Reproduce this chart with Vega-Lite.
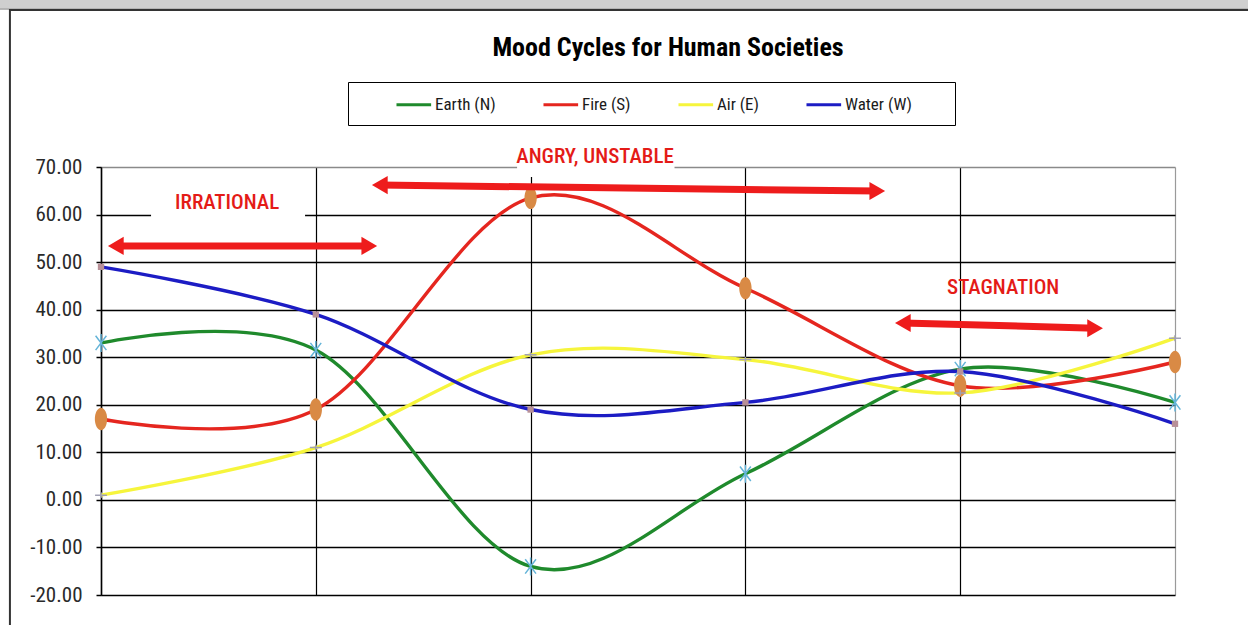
{
  "$schema": "https://vega.github.io/schema/vega-lite/v6.json",
  "width": 1074,
  "height": 428,
  "autosize": {"type": "none"},
  "padding": {"left": 101, "top": 167, "right": 73, "bottom": 30},
  "background": "white",
  "title": {
    "text": "Mood Cycles for Human Societies",
    "font": "Liberation Sans Narrow, Roboto Condensed, DejaVu Sans Condensed, sans-serif",
    "fontSize": 26,
    "fontWeight": "bold",
    "color": "#000000",
    "anchor": "middle",
    "frame": "group",
    "dx": 30,
    "offset": -66
  },
  "datasets": {
    "series": [
      {"series": "Earth (N)", "x": 0, "y": 33},
      {"series": "Earth (N)", "x": 1, "y": 31.5},
      {"series": "Earth (N)", "x": 2, "y": -14},
      {"series": "Earth (N)", "x": 3, "y": 5.5},
      {"series": "Earth (N)", "x": 4, "y": 27.5},
      {"series": "Earth (N)", "x": 5, "y": 20.5},
      {"series": "Fire (S)", "x": 0, "y": 17},
      {"series": "Fire (S)", "x": 1, "y": 19},
      {"series": "Fire (S)", "x": 2, "y": 63.5},
      {"series": "Fire (S)", "x": 3, "y": 44.5},
      {"series": "Fire (S)", "x": 4, "y": 24},
      {"series": "Fire (S)", "x": 5, "y": 29},
      {"series": "Air (E)", "x": 0, "y": 1},
      {"series": "Air (E)", "x": 1, "y": 11},
      {"series": "Air (E)", "x": 2, "y": 30.5},
      {"series": "Air (E)", "x": 3, "y": 29.5},
      {"series": "Air (E)", "x": 4, "y": 22.5},
      {"series": "Air (E)", "x": 5, "y": 34},
      {"series": "Water (W)", "x": 0, "y": 49},
      {"series": "Water (W)", "x": 1, "y": 39},
      {"series": "Water (W)", "x": 2, "y": 19},
      {"series": "Water (W)", "x": 3, "y": 20.5},
      {"series": "Water (W)", "x": 4, "y": 27},
      {"series": "Water (W)", "x": 5, "y": 16}
    ],
    "arrows": [
      {"note": "IRRATIONAL", "x": 0.069, "x2": 1.249, "y": 53.4, "y2": 53.4},
      {"note": "ANGRY, UNSTABLE", "x": 1.298, "x2": 3.614, "y": 66.2, "y2": 64.95},
      {"note": "STAGNATION", "x": 3.733, "x2": 4.628, "y": 37.2, "y2": 36.1}
    ],
    "heads": [
      {"note": "IRRATIONAL", "dir": "left", "x": 0.069, "y": 53.4},
      {"note": "IRRATIONAL", "dir": "right", "x": 1.249, "y": 53.4},
      {"note": "ANGRY, UNSTABLE", "dir": "left", "x": 1.298, "y": 66.2},
      {"note": "ANGRY, UNSTABLE", "dir": "right", "x": 3.614, "y": 64.95},
      {"note": "STAGNATION", "dir": "left", "x": 3.733, "y": 37.2},
      {"note": "STAGNATION", "dir": "right", "x": 4.628, "y": 36.1}
    ],
    "notes": [
      {"note": "IRRATIONAL", "x": 0.587, "y": 62.4},
      {"note": "ANGRY, UNSTABLE", "x": 2.3, "y": 72.0},
      {"note": "STAGNATION", "x": 4.2, "y": 44.6}
    ],
    "boxes": [
      {"note": "IRRATIONAL", "x": 0.233, "x2": 0.95, "y": 65.2, "y2": 58.4},
      {"note": "ANGRY, UNSTABLE", "x": 1.937, "x2": 2.67, "y": 73.7, "y2": 67.9}
    ],
    "frame": [
      {"x": -0.424, "x2": 6, "y": 103, "y2": -40}
    ],
    "band": [
      {"x": -1, "x2": 7, "y": 106, "y2": 103.2}
    ]
  },
  "encoding": {
    "x": {
      "field": "x",
      "type": "quantitative",
      "scale": {"domain": [0, 5], "nice": false, "zero": false},
      "axis": {
        "title": null,
        "labels": false,
        "ticks": false,
        "domain": false,
        "grid": true,
        "values": [0, 1, 2, 3, 4, 5],
        "gridColor": {"condition": {"test": "datum.value == 5", "value": "#9a9a9a"}, "value": "#000000"},
        "gridWidth": 1.2
      }
    },
    "y": {
      "field": "y",
      "type": "quantitative",
      "scale": {"domain": [-20, 70], "nice": false, "zero": false},
      "axis": {
        "title": null,
        "values": [-20, -10, 0, 10, 20, 30, 40, 50, 60, 70],
        "labelExpr": "replace(format(datum.value, '.2f'), '\u2212', '-')",
        "grid": true,
        "gridColor": {"condition": {"test": "datum.value == 70", "value": "#8a8a8a"}, "value": "#000000"},
        "gridWidth": 1.6,
        "domain": true,
        "domainColor": "#000000",
        "domainWidth": 1.5,
        "ticks": true,
        "tickColor": "#000000",
        "tickSize": 5,
        "tickWidth": 1.5,
        "labelFont": "Liberation Sans Narrow, Roboto Condensed, DejaVu Sans Condensed, sans-serif",
        "labelFontSize": 21,
        "labelColor": "#2a2a2a",
        "labelPadding": 14
      }
    }
  },
  "layer": [
    {
      "data": {"name": "band"},
      "mark": {"type": "rect", "fill": "#cfcfcf", "stroke": "#8a8a8a", "strokeWidth": 1},
      "encoding": {"x2": {"field": "x2"}, "y2": {"field": "y2"}}
    },
    {
      "data": {"name": "frame"},
      "mark": {"type": "rect", "fillOpacity": 0, "stroke": "#333333", "strokeWidth": 2},
      "encoding": {"x2": {"field": "x2"}, "y2": {"field": "y2"}}
    },
    {
      "data": {"name": "boxes"},
      "mark": {"type": "rect", "fill": "#ffffff", "stroke": null},
      "encoding": {"x2": {"field": "x2"}, "y2": {"field": "y2"}}
    },
    {
      "data": {"name": "series"},
      "mark": {"type": "line", "interpolate": "cardinal", "strokeWidth": 3.4},
      "encoding": {
        "color": {
          "field": "series",
          "type": "nominal",
          "scale": {
            "domain": ["Earth (N)", "Fire (S)", "Air (E)", "Water (W)"],
            "range": ["#1f8a2c", "#e5261f", "#f6f53c", "#1c1cc4"]
          },
          "legend": {
            "orient": "none",
            "legendX": 247,
            "legendY": -85,
            "direction": "horizontal",
            "title": "\u00a0",
            "titleOrient": "right",
            "titlePadding": 31,
            "titleFontSize": 12,
            "symbolType": "M3,0L7,0",
            "symbolSize": 300,
            "symbolStrokeWidth": 3,
            "labelOffset": 54,
            "labelFont": "Liberation Sans Narrow, Roboto Condensed, DejaVu Sans Condensed, sans-serif",
            "labelFontSize": 17,
            "labelColor": "#1a1a1a",
            "columnPadding": 11,
            "padding": 12,
            "strokeColor": "#000000",
            "fillColor": "#ffffff"
          }
        },
        "order": {"field": "x"}
      }
    },
    {
      "data": {"name": "series"},
      "transform": [{"filter": "datum.series == 'Earth (N)'"}],
      "mark": {"type": "point", "shape": "M0,-1L0,1M-0.6,-0.8L0.6,0.8M-0.6,0.8L0.6,-0.8", "size": 324, "filled": false, "stroke": "#64b4d8", "strokeWidth": 1.5, "opacity": 1}
    },
    {
      "data": {"name": "series"},
      "transform": [{"filter": "datum.series == 'Fire (S)'"}],
      "mark": {"type": "point", "shape": "M0,-1A0.55,1 0 1,1 0,1A0.55,1 0 1,1 0,-1Z", "size": 500, "filled": true, "fill": "#d98a45", "stroke": null, "opacity": 1}
    },
    {
      "data": {"name": "series"},
      "transform": [{"filter": "datum.series == 'Air (E)'"}],
      "mark": {"type": "point", "shape": "M-0.8,0L0.8,0M0,-0.4L0,0.4", "size": 220, "filled": false, "stroke": "#a0a0b4", "strokeWidth": 1.5, "opacity": 1}
    },
    {
      "data": {"name": "series"},
      "transform": [{"filter": "datum.series == 'Water (W)'"}],
      "mark": {"type": "point", "shape": "square", "size": 40, "filled": true, "fill": "#b89098", "stroke": null, "opacity": 1}
    },
    {
      "data": {"name": "arrows"},
      "mark": {"type": "rule", "color": "#ee1c1c", "strokeWidth": 7},
      "encoding": {"x2": {"field": "x2"}, "y2": {"field": "y2"}}
    },
    {
      "data": {"name": "heads"},
      "mark": {"type": "point", "filled": true, "fill": "#ee1c1c", "stroke": null, "size": 330, "opacity": 1},
      "encoding": {
        "shape": {
          "field": "dir",
          "type": "nominal",
          "scale": {"domain": ["left", "right"], "range": ["triangle-left", "triangle-right"]},
          "legend": null
        }
      }
    },
    {
      "data": {"name": "notes"},
      "mark": {
        "type": "text",
        "color": "#e41b17",
        "font": "Liberation Sans Narrow, Roboto Condensed, DejaVu Sans Condensed, sans-serif",
        "fontSize": 21,
        "fontWeight": 500,
        "align": "center",
        "baseline": "middle"
      },
      "encoding": {"text": {"field": "note"}}
    }
  ],
  "config": {
    "view": {"stroke": null}
  }
}
